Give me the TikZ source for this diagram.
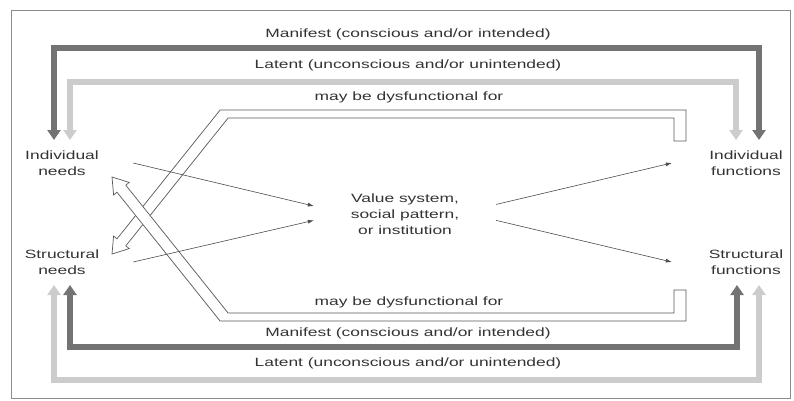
\documentclass[tikz,border=0pt]{standalone}
\usepackage{fontspec}
\setmainfont{Liberation Sans}[FakeStretch=1.45]
\usetikzlibrary{arrows.meta}
\colorlet{darkband}{black!55}
\colorlet{lightband}{black!20}
\tikzset{band/.style={line width=6pt,{Triangle[width=13pt,length=10pt]}-{Triangle[width=13pt,length=10pt]}},
         manifest/.style={band,draw=darkband},
         latent/.style={band,draw=lightband},
         hollow/.style={draw=black!65,fill=white,line width=.7pt},
         flow/.style={draw=black!70,line width=.6pt,-{Latex[length=6pt,width=4pt]}},
         txt/.style={font=\fontsize{12}{16}\selectfont,text=black!80,align=center,inner sep=0pt},
         side/.style={txt,minimum width=142pt}
}

\begin{document}
\begin{tikzpicture}[x=1pt,y=-1pt]
  \useasboundingbox (0,0) rectangle (794,400);
  \draw[black!45,line width=1pt] (11,10) rectangle (790,398);
  % manifest and latent bands
  \draw[manifest] (54,140) |- (400,48) -| (759,140);
  \draw[latent] (70,140) |- (400,82) -| (736,140);
  \draw[latent] (54,285) |- (400,380) -| (759,285);
  \draw[manifest] (70,285) |- (400,347) -| (737,285);
  % dysfunctional (hollow) arrows
  \draw[hollow] (686,110) -- (220.1,110) -- (117,238.8) -- (113.6,236) -- (112,254)
     -- (129.2,248.6) -- (125.8,245.8) -- (228.1,118) -- (674,118) -- (674,141) -- (686,141) -- cycle;
  \draw[hollow] (686,321) -- (220.1,321) -- (117,192.2) -- (113.6,195) -- (112,177)
     -- (129.2,182.4) -- (125.8,185.2) -- (228.1,313) -- (674,313) -- (674,290) -- (686,290) -- cycle;
  % labels
  \node[txt] (mantop) at (408,34) {Manifest (conscious and/or intended)};
  \node[txt] (lattop) at (408,65) {Latent (unconscious and/or unintended)};
  \node[txt] (dystop) at (409,97) {may be dysfunctional for};
  \node[txt] (dysbot) at (409,302) {may be dysfunctional for};
  \node[txt] (manbot) at (408,333) {Manifest (conscious and/or intended)};
  \node[txt] (latbot) at (408,363) {Latent (unconscious and/or unintended)};
  % needs, value system, functions
  \node[side] (ineeds) at (62,163) {Individual\\needs};
  \node[side] (sneeds) at (62,262) {Structural\\needs};
  \node[txt,minimum width=182pt,minimum height=40pt] (value) at (405,214) {Value system,\\social pattern,\\or institution};
  \node[side,minimum width=148pt] (ifunc) at (746,163) {Individual\\functions};
  \node[side,minimum width=148pt] (sfunc) at (746,262) {Structural\\functions};
  \draw[flow] (ineeds.east) -- (value.175);
  \draw[flow] (sneeds.east) -- (value.184);
  \draw[flow] (value.6) -- (ifunc.west);
  \draw[flow] (value.-4) -- (sfunc.west);
\end{tikzpicture}
\end{document}
